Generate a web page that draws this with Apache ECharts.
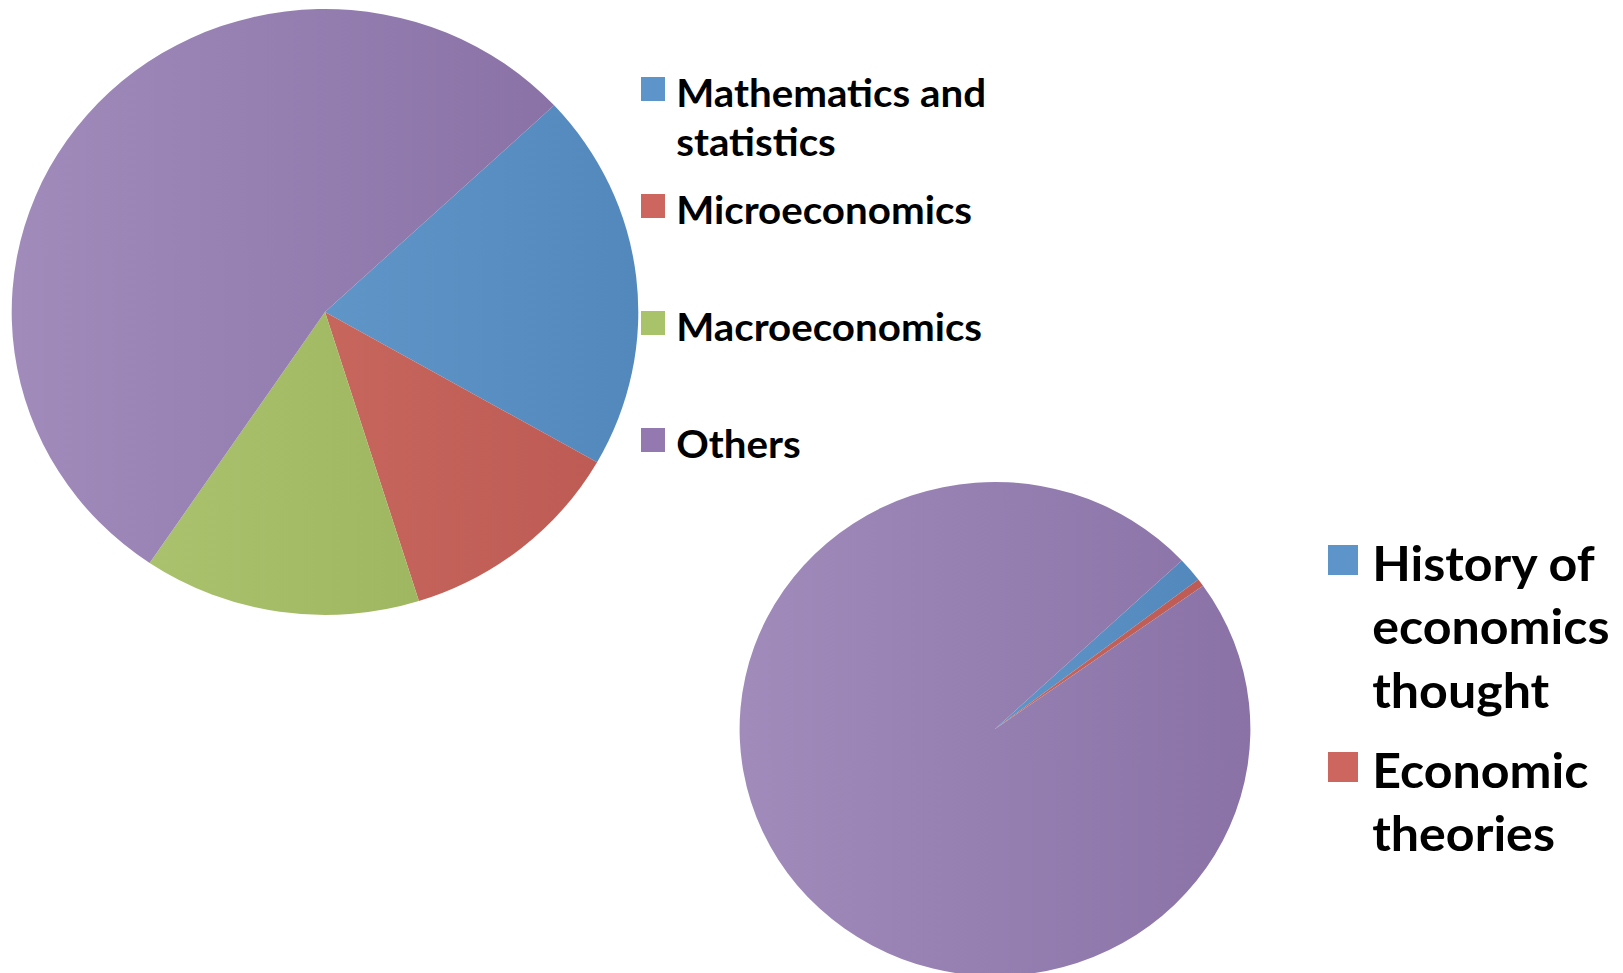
<!DOCTYPE html>
<html>
<head>
<meta charset="utf-8">
<script src="https://cdn.jsdelivr.net/npm/echarts@6/dist/echarts.min.js"></script>
<style>
html,body{margin:0;padding:0;background:#fff;overflow:hidden;}
#wrap{width:1623px;height:973px;overflow:hidden;position:relative;background:#fff;}
/* the original picture is stretched horizontally (its pies are wider than tall) */
#chart{width:1570px;height:973px;transform:scaleX(1.034);transform-origin:0 0;}
</style>
</head>
<body>
<div id="wrap"><div id="chart"></div></div>
<script>
// ---- data ----
const categories1 = ['Mathematics and statistics', 'Microeconomics', 'Macroeconomics', 'Others'];
const values1 = [20.2, 11.9, 14.3, 53.6];
const legendLabels1 = ['Mathematics and\nstatistics', 'Microeconomics', 'Macroeconomics', 'Others'];

const categories2 = ['History of economics thought', 'Economic theories', 'Others'];
const values2 = [1.6, 0.5, 97.9];
const legendLabels2 = ['History of\neconomics\nthought', 'Economic\ntheories'];

// ---- styles ----
const SX = 1.034; // horizontal stretch applied by CSS
const sliceGrad = {
  blue:   ['#5f95c7', '#5388bd'],
  red:    ['#c7665d', '#bd5b54'],
  green:  ['#aac26d', '#a0b761'],
  purple: ['#a08bbb', '#8a72a6']
};
const swatch = { blue: '#5d94ca', red: '#cc665f', green: '#a9c36b', purple: '#9379b0' };
const order1 = ['blue', 'red', 'green', 'purple'];
const order2 = ['blue', 'red', 'purple'];

function grad(c) {
  return new echarts.graphic.LinearGradient(0, 0, 1, 0, [
    { offset: 0, color: sliceGrad[c][0] },
    { offset: 1, color: sliceGrad[c][1] }
  ]);
}

const chart = echarts.init(document.getElementById('chart'), null, { renderer: 'svg' });

const FONT = 'Lato';

// legend entry: square swatch (sw px on screen), first text line centred slightly below swatch centre
function makeLegend(name, label, color, left, swatchTop, fs, lh, sw, shift, gapLeft) {
  const n = label.split('\n').length;
  const text = new Array(n).join('\n') + label; // (n-1) blank lines so the first line sits at the centre
  const ih = sw + 2 * shift;
  const iw = sw / SX;
  const boxH = (2 * n - 1) * lh;
  const relTop = Math.min(0, ih / 2 - boxH / 2);
  const iconPath = 'path://M0,0L' + iw + ',0L' + iw + ',' + sw + 'L0,' + sw + 'ZM0,' + ih + 'L0.001,' + ih + 'L0,' + ih + 'Z';
  return {
    data: [{ name: name, icon: iconPath, itemStyle: { color: color, borderWidth: 0 } }],
    orient: 'vertical',
    left: left / SX,
    top: swatchTop + relTop,
    padding: 0,
    itemWidth: iw,
    itemHeight: ih,
    selectedMode: false,
    formatter: function () { return text; },
    textStyle: {
      fontFamily: FONT,
      fontWeight: 'bold',
      fontSize: fs,
      lineHeight: lh,
      color: '#000',
      padding: [0, 0, 0, gapLeft / SX]
    }
  };
}

const swatchTops1 = [77, 194, 311, 428];
const swatchTops2 = [545, 752];
const legends = [];
categories1.forEach(function (c, i) {
  legends.push(makeLegend(c, legendLabels1[i], swatch[order1[i]], 641, swatchTops1[i], 39, 49, 24, 2.5, 6));
});
legendLabels2.forEach(function (l, i) {
  legends.push(makeLegend(categories2[i], l, swatch[order2[i]], 1328, swatchTops2[i], 48.5, 63.5, 30, 2, 9));
});

const pieCommon = {
  type: 'pie',
  startAngle: 43,
  clockwise: true,
  padAngle: 0,
  label: { show: false },
  labelLine: { show: false },
  emphasis: { disabled: true },
  silent: true,
  avoidLabelOverlap: false
};

chart.setOption({
  animation: false,
  backgroundColor: '#fff',
  legend: legends,
  series: [
    Object.assign({}, pieCommon, {
      name: 'pie1',
      center: [325 / SX, 312],
      radius: [0, 303],
      data: categories1.map(function (c, i) {
        return { name: c, value: values1[i], itemStyle: { color: grad(order1[i]), borderWidth: 0 } };
      })
    }),
    Object.assign({}, pieCommon, {
      name: 'pie2',
      center: [995 / SX, 729],
      radius: [0, 247],
      data: categories2.map(function (c, i) {
        return { name: c, value: values2[i], itemStyle: { color: grad(order2[i]), borderWidth: 0 } };
      })
    })
  ]
});
</script>
</body>
</html>
